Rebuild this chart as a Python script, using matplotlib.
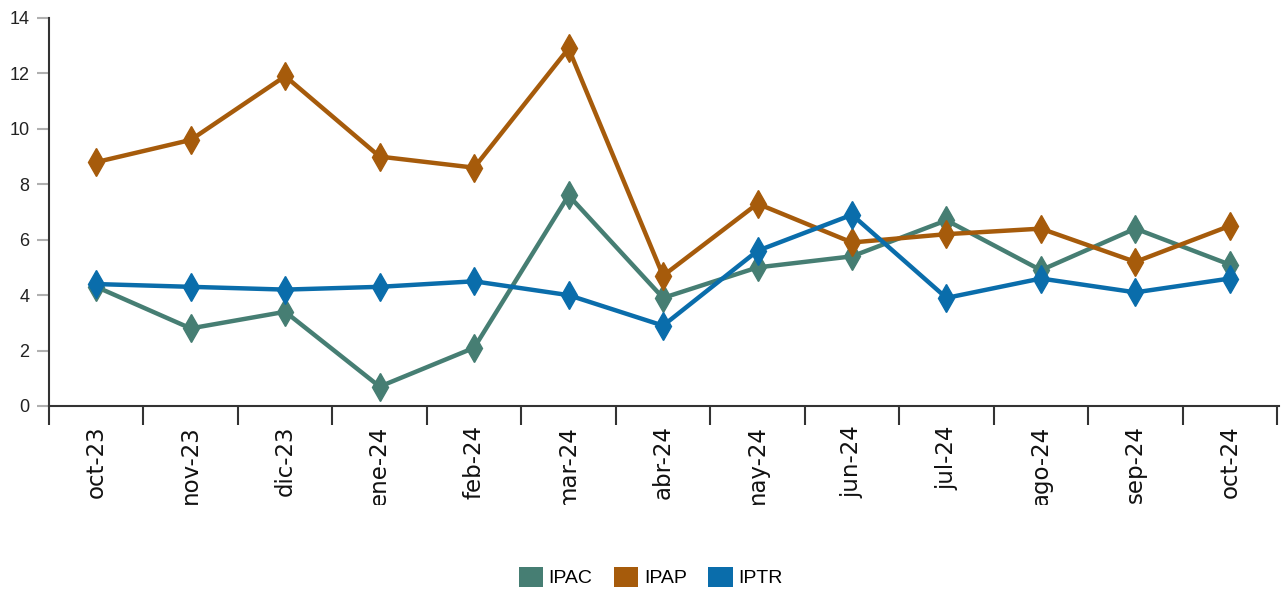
import numpy as np
import matplotlib.pyplot as plt
from matplotlib.patches import Patch
from matplotlib.transforms import Bbox, TransformedBbox

months = ["oct-23", "nov-23", "dic-23", "ene-24", "feb-24", "mar-24", "abr-24",
          "may-24", "jun-24", "jul-24", "ago-24", "sep-24", "oct-24"]
ipac = [4.3, 2.8, 3.4, 0.7, 2.1, 7.6, 3.9, 5.0, 5.4, 6.7, 4.9, 6.4, 5.1]
ipap = [8.8, 9.6, 11.9, 9.0, 8.6, 12.9, 4.7, 7.3, 5.9, 6.2, 6.4, 5.2, 6.5]
iptr = [4.4, 4.3, 4.2, 4.3, 4.5, 4.0, 2.9, 5.6, 6.9, 3.9, 4.6, 4.1, 4.6]

names = ["IPAC", "IPAP", "IPTR"]
colors = ["#467e73", "#a65b0b", "#0a6dab"]

fig = plt.figure(figsize=(12.81, 5.90), dpi=100)
ax = fig.add_axes([49 / 1281, 184 / 590, 1230 / 1281, 388 / 590])

x = np.arange(len(months))
for vals, c in zip([ipac, ipap, iptr], colors):
    ax.plot(x, vals, color=c, lw=3.2, marker="d", markersize=14, zorder=3)

ax.set_xlim(-0.48, len(months) - 0.48)
ax.set_ylim(0, 14)
ax.set_yticks(np.arange(0, 15, 2))
ax.tick_params(axis="y", length=9, width=1.5, color="#b0b0b0", labelsize=13,
               pad=5, labelcolor="#222222")
for t in ax.get_yticklabels():
    t.set_fontfamily("Liberation Sans")

ax.set_xticks(x)
ax.set_xticklabels(months, rotation=90, fontsize=16.5, va="top",
                   fontfamily="DejaVu Sans", color="#111111")
ax.set_xticks(np.arange(-0.5, len(months)), minor=True)
ax.tick_params(axis="x", which="major", length=0, pad=14)
ax.tick_params(axis="x", which="minor", length=14, width=1.5, color="#333333")

for s in ["top", "right"]:
    ax.spines[s].set_visible(False)
ax.spines["left"].set_color("#333333")
ax.spines["left"].set_linewidth(1.5)
ax.spines["bottom"].set_color("#333333")
ax.spines["bottom"].set_linewidth(1.5)

# labels are cut off at the bottom in the original
clip = TransformedBbox(Bbox([[0, 85 / 590], [1, 170 / 590]]), fig.transFigure)
for t in ax.get_xticklabels():
    t.set_clip_on(True)
    t.set_clip_box(clip)

handles = [Patch(facecolor=c, edgecolor="none", label=n) for n, c in zip(names, colors)]
fig.legend(handles=handles, loc="lower center", bbox_to_anchor=(0.508, -0.025), ncol=3,
           frameon=False, prop={"family": "Liberation Sans", "size": 14},
           handlelength=1.25, handleheight=1.2, handletextpad=0.3, columnspacing=1.1)

fig.savefig("out.png", dpi=100)
